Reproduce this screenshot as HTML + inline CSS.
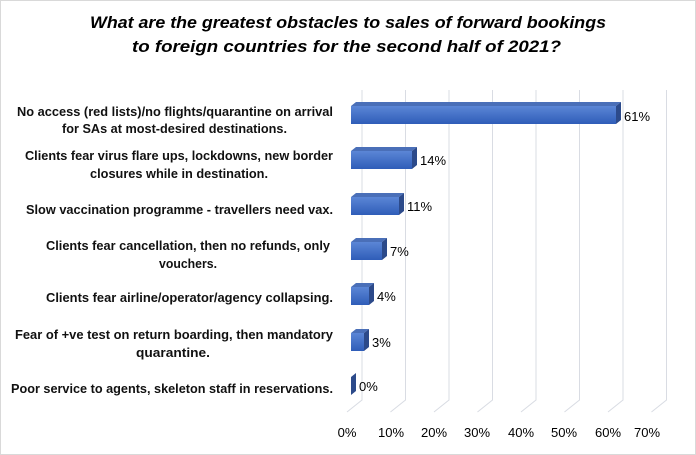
<!DOCTYPE html><html><head><style>body{margin:0;background:#fff}svg{display:block}</style></head><body>
<svg width="696" height="455" xmlns="http://www.w3.org/2000/svg" font-family="'Liberation Sans',sans-serif">
<defs><linearGradient id="g" x1="0" y1="0" x2="0" y2="1"><stop offset="0" stop-color="#5b86d6"/><stop offset="1" stop-color="#2f5db8"/></linearGradient></defs>
<rect x="0.5" y="0.5" width="695" height="454" fill="#fff" stroke="#d9d9d9"/>
<text x="90" y="28" textLength="516" lengthAdjust="spacingAndGlyphs" font-size="17" font-weight="bold" font-style="italic" fill="#000">What are the greatest obstacles to sales of forward bookings</text>
<text x="132" y="52" textLength="429" lengthAdjust="spacingAndGlyphs" font-size="17" font-weight="bold" font-style="italic" fill="#000">to foreign countries for the second half of 2021?</text>
<g stroke="#d9dce3" stroke-width="1" fill="none">
<path d="M362 90V400L347 412"/><path d="M405.5 90V400L390.5 412"/><path d="M449 90V400L434 412"/><path d="M492.5 90V400L477.5 412"/><path d="M536 90V400L521 412"/><path d="M579.5 90V400L564.5 412"/><path d="M623 90V400L608 412"/><path d="M666.5 90V400L651.5 412"/>
</g>
<g font-size="13" fill="#000" text-anchor="middle">
<text x="347" y="437">0%</text><text x="391" y="437">10%</text><text x="434" y="437">20%</text><text x="477" y="437">30%</text><text x="521" y="437">40%</text><text x="564" y="437">50%</text><text x="608" y="437">60%</text><text x="647" y="437">70%</text>
</g>
<g font-size="12.5" font-weight="bold" fill="#111" lengthAdjust="spacingAndGlyphs">
<text x="17" y="116" textLength="316" lengthAdjust="spacingAndGlyphs">No access (red lists)/no flights/quarantine on arrival</text>
<text x="62" y="133" textLength="225" lengthAdjust="spacingAndGlyphs">for SAs at most-desired destinations.</text>
<text x="25" y="160" textLength="308" lengthAdjust="spacingAndGlyphs">Clients fear virus flare ups, lockdowns, new border</text>
<text x="90" y="178" textLength="178" lengthAdjust="spacingAndGlyphs">closures while in destination.</text>
<text x="26" y="214" textLength="307" lengthAdjust="spacingAndGlyphs">Slow vaccination programme - travellers need vax.</text>
<text x="46" y="250" textLength="284" lengthAdjust="spacingAndGlyphs">Clients fear cancellation, then no refunds, only</text>
<text x="159" y="268" textLength="58" lengthAdjust="spacingAndGlyphs">vouchers.</text>
<text x="46" y="302" textLength="287" lengthAdjust="spacingAndGlyphs">Clients fear airline/operator/agency collapsing.</text>
<text x="15" y="339" textLength="318" lengthAdjust="spacingAndGlyphs">Fear of +ve test on return boarding, then mandatory</text>
<text x="136" y="357" textLength="74" lengthAdjust="spacingAndGlyphs">quarantine.</text>
<text x="11" y="393" textLength="322" lengthAdjust="spacingAndGlyphs">Poor service to agents, skeleton staff in reservations.</text>
</g>
<g>
<g transform="translate(0,106)"><polygon points="351,0 356,-4 621,-4 616,0" fill="#4a6fb8"/><polygon points="616,0 621,-4 621,14 616,18" fill="#2c4a8a"/><rect x="351" y="0" width="265" height="18" fill="url(#g)"/></g>
<g transform="translate(0,151)"><polygon points="351,0 356,-4 417,-4 412,0" fill="#4a6fb8"/><polygon points="412,0 417,-4 417,14 412,18" fill="#2c4a8a"/><rect x="351" y="0" width="61" height="18" fill="url(#g)"/></g>
<g transform="translate(0,197)"><polygon points="351,0 356,-4 404,-4 399,0" fill="#4a6fb8"/><polygon points="399,0 404,-4 404,14 399,18" fill="#2c4a8a"/><rect x="351" y="0" width="48" height="18" fill="url(#g)"/></g>
<g transform="translate(0,242)"><polygon points="351,0 356,-4 387,-4 382,0" fill="#4a6fb8"/><polygon points="382,0 387,-4 387,14 382,18" fill="#2c4a8a"/><rect x="351" y="0" width="31" height="18" fill="url(#g)"/></g>
<g transform="translate(0,287)"><polygon points="351,0 356,-4 374,-4 369,0" fill="#4a6fb8"/><polygon points="369,0 374,-4 374,14 369,18" fill="#2c4a8a"/><rect x="351" y="0" width="18" height="18" fill="url(#g)"/></g>
<g transform="translate(0,333)"><polygon points="351,0 356,-4 369,-4 364,0" fill="#4a6fb8"/><polygon points="364,0 369,-4 369,14 364,18" fill="#2c4a8a"/><rect x="351" y="0" width="13" height="18" fill="url(#g)"/></g>
<g transform="translate(0,377)"><polygon points="351,0 356,-4 356,14 351,18" fill="#2c4a8a"/></g>
</g>
<g font-size="13" fill="#000">
<text x="624" y="121">61%</text><text x="420" y="165">14%</text><text x="407" y="211">11%</text><text x="390" y="256">7%</text><text x="377" y="301">4%</text><text x="372" y="347">3%</text><text x="359" y="391">0%</text>
</g>
</svg>
</body></html>
